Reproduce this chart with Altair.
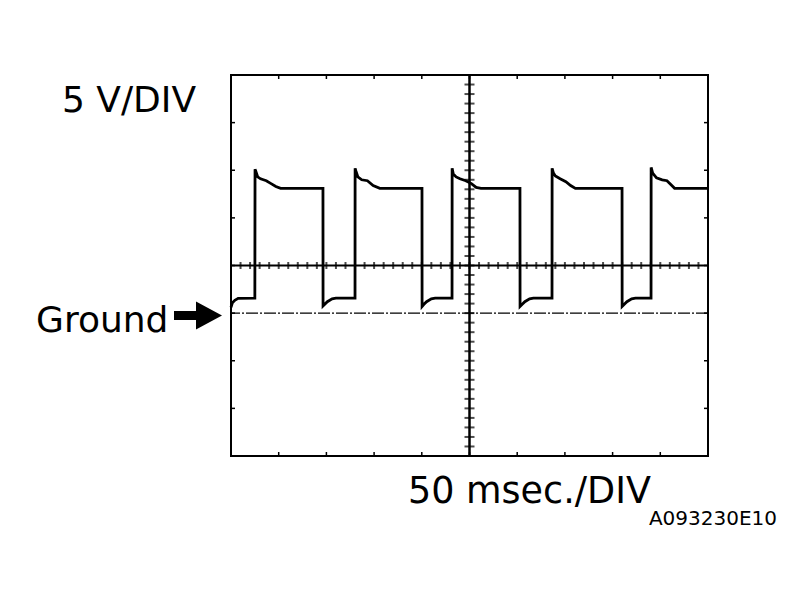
import altair as alt
import pandas as pd

# Oscilloscope trace (time in ms, voltage in V relative to ground)
trace_t = [0, 1.5, 4, 7.5, 25.0,
           25.2, 26, 28, 31, 37, 42, 47, 52, 96.4,
           96.5, 98, 101, 106, 110, 130.0,
           130.1, 131, 133, 137, 143, 149, 156, 200.2,
           200.3, 202, 205, 210, 214, 231.7,
           231.8, 233, 236, 240, 246, 252, 257, 262, 302.9,
           303.0, 305, 308, 313, 317, 336.5,
           336.6, 338, 340, 345, 351, 356, 361, 409.9,
           410.0, 412, 415, 420, 424, 440.3,
           440.4, 442, 446, 452, 457, 461, 465, 500]
trace_v = [0.6, 1.1, 1.35, 1.55, 1.57,
           15.1, 14.9, 14.3, 14.1, 13.9, 13.6, 13.3, 13.1, 13.1,
           0.75, 0.9, 1.2, 1.5, 1.57, 1.57,
           15.2, 14.9, 14.3, 14.0, 13.9, 13.4, 13.1, 13.1,
           0.7, 0.9, 1.2, 1.5, 1.57, 1.57,
           15.2, 14.6, 14.3, 14.1, 13.9, 13.6, 13.2, 13.1, 13.1,
           0.7, 0.9, 1.2, 1.5, 1.57, 1.57,
           15.2, 14.7, 14.4, 14.1, 13.8, 13.4, 13.1, 13.1,
           0.7, 0.9, 1.2, 1.5, 1.57, 1.57,
           15.3, 14.7, 14.2, 14.0, 13.9, 13.5, 13.1, 13.1]

# Graticule: 10 x 50 ms divisions, 8 x 5 V divisions
x_major = [50, 100, 150, 200, 250, 300, 350, 400, 450]
y_major = [-10, -5, 0, 5, 10, 15, 20]
x_minor = list(range(10, 500, 10))
y_minor = list(range(-14, 25, 1))
center_t = [250]
center_v = [5]
ground_v = [0]

X_DOMAIN = [0, 500]
Y_DOMAIN = [-15, 25]

trace = pd.DataFrame({"t": trace_t, "v": trace_v})
xmaj = pd.DataFrame({"t": x_major})
ymaj = pd.DataFrame({"v": y_major})
xmin = pd.DataFrame({"t": x_minor, "v": center_v * len(x_minor)})
ymin = pd.DataFrame({"v": y_minor, "t": center_t * len(y_minor)})
ct = pd.DataFrame({"t": center_t})
cv = pd.DataFrame({"v": center_v})
gv = pd.DataFrame({"v": ground_v})
dummy = pd.DataFrame({"a": [0]})

xs = alt.Scale(domain=X_DOMAIN, nice=False, zero=False)
ys = alt.Scale(domain=Y_DOMAIN, nice=False, zero=False)


def X(f):
    return alt.X(f, type="quantitative", scale=xs, axis=None)


def Y(f):
    return alt.Y(f, type="quantitative", scale=ys, axis=None)


W, H = 477, 381

layers = []

# centre cross lines
layers.append(alt.Chart(ct).mark_rule(color="black", strokeWidth=2.5).encode(x=X("t")))
layers.append(alt.Chart(cv).mark_rule(color="black", strokeWidth=2).encode(y=Y("v")))

# minor ticks on centre lines
layers.append(alt.Chart(xmin).mark_tick(orient="vertical", color="black", size=7, thickness=2).encode(
    x=X("t"), y=Y("v")))
layers.append(alt.Chart(ymin).mark_tick(orient="horizontal", color="black", size=10, thickness=2).encode(
    y=Y("v"), x=X("t")))

# frame ticks
layers.append(alt.Chart(xmaj).mark_rule(color="black", strokeWidth=1.5).encode(
    x=X("t"), y=alt.value(0), y2=alt.value(4)))
layers.append(alt.Chart(xmaj).mark_rule(color="black", strokeWidth=1.5).encode(
    x=X("t"), y=alt.value(H), y2=alt.value(H - 4)))
layers.append(alt.Chart(ymaj).mark_rule(color="black", strokeWidth=1.5).encode(
    y=Y("v"), x=alt.value(0), x2=alt.value(4)))
layers.append(alt.Chart(ymaj).mark_rule(color="black", strokeWidth=1.5).encode(
    y=Y("v"), x=alt.value(W), x2=alt.value(W - 4)))

# ground reference line
layers.append(alt.Chart(gv).mark_rule(color="black", strokeWidth=1.2, strokeDash=[12, 2, 2, 2]).encode(
    y=Y("v")))

# waveform
layers.append(alt.Chart(trace).mark_line(color="black", strokeWidth=2.8).encode(
    x=X("t"), y=Y("v")))

# ground arrow
arrow_path = "M -24 -4.5 L -2 -4.5 L -2 -14 L 24 0 L -2 14 L -2 4.5 L -24 4.5 Z"
layers.append(alt.Chart(dummy).mark_point(shape=arrow_path, size=4, filled=True, color="black",
                                           opacity=1).encode(
    x=alt.value(-33), y=alt.value(240.5)))

# labels
font = "DejaVu Sans"
layers.append(alt.Chart(dummy).mark_text(text="5 V/DIV", font=font, fontSize=36, align="left",
                                          baseline="alphabetic", color="black").encode(
    x=alt.value(-169), y=alt.value(37)))
layers.append(alt.Chart(dummy).mark_text(text="Ground", font=font, fontSize=36, align="left",
                                          baseline="alphabetic", color="black").encode(
    x=alt.value(-195), y=alt.value(257)))
layers.append(alt.Chart(dummy).mark_text(text="50 msec./DIV", font=font, fontSize=36.5, align="left",
                                          baseline="alphabetic", color="black").encode(
    x=alt.value(177), y=alt.value(428)))
layers.append(alt.Chart(dummy).mark_text(text="A093230E10", font=font, fontSize=20, align="right",
                                          baseline="alphabetic", color="black").encode(
    x=alt.value(546), y=alt.value(450)))

chart = alt.layer(*layers).properties(
    width=W, height=H,
    autosize="none",
    padding={"left": 223, "top": 67, "right": 80, "bottom": 120},
    background="white",
).configure_view(stroke="black", strokeWidth=2)

chart.save("out.html", embed_options={"renderer": "svg", "actions": False})
